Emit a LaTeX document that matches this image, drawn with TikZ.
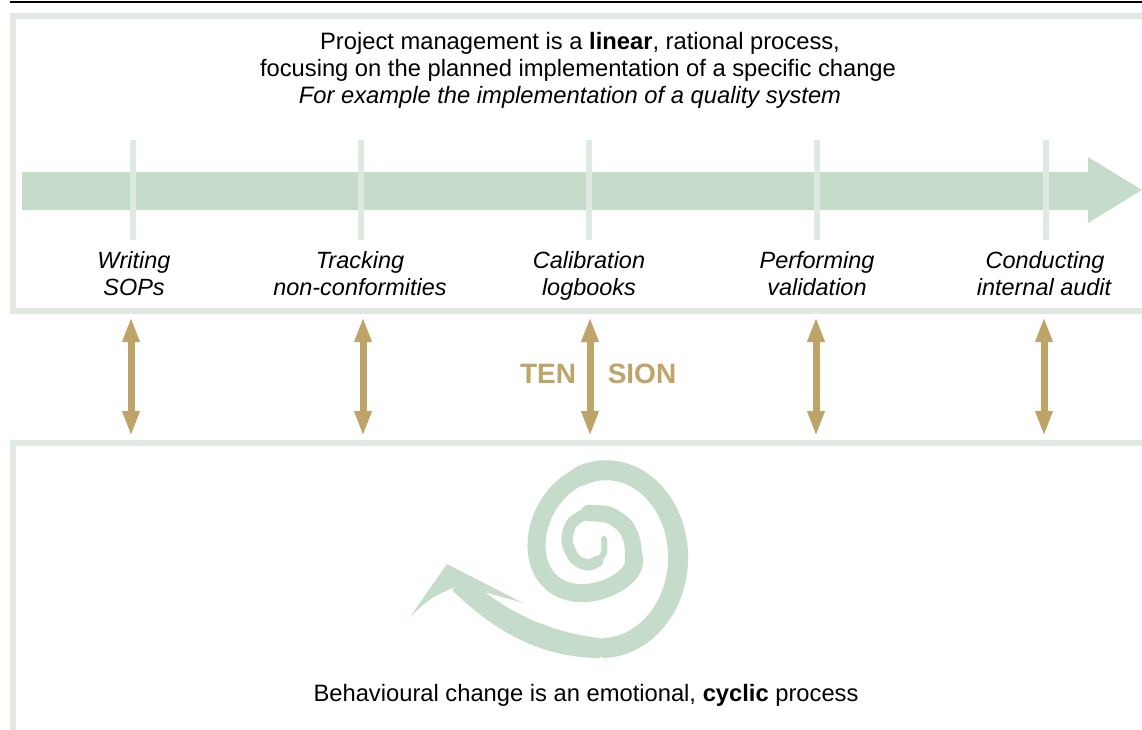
\documentclass[tikz,border=0pt]{standalone}
\usepackage{fontspec}
\setmainfont{Liberation Sans}
\usetikzlibrary{arrows.meta}
\definecolor{framec}{RGB}{224,232,225}
\definecolor{arrowc}{RGB}{197,220,203}
\definecolor{tickc}{RGB}{222,233,225}
\definecolor{spiralc}{RGB}{197,220,203}
\definecolor{gold}{RGB}{190,164,104}
\begin{document}
\begin{tikzpicture}[x=0.75pt,y=-0.75pt,
  txt/.style={font=\fontsize{17.8}{20.3}\selectfont, inner sep=0pt, anchor=base},
  lab/.style={inner sep=0pt, anchor=base, font=\fontsize{17.6}{20.3}\selectfont\itshape},
  tens/.style={inner sep=0pt, anchor=base, text=gold, font=\fontsize{21}{24}\selectfont\bfseries},
  tensarrow/.style={draw=gold, line width=5.25pt, {Triangle[length=18.75pt,width=12pt]}-{Triangle[length=18.75pt,width=12pt]}},
  tickline/.style={draw=tickc, line width=4.5pt},
  framel/.style={draw=framec, line width=4.5pt},
  spir/.style={draw=spiralc, line cap=round, line join=round}]
\useasboundingbox (0,0) rectangle (1142,729);
% top black rule
\coordinate (r1) at (10,2);
\coordinate (r2) at (1142,2);
\draw[line width=1.5pt] (r1) -- (r2);
% frames
\draw[framel] (1150,16) -- (13,16) -- (13,310.5) -- (1150,310.5);
\draw[framel] (1150,443) -- (13,443) -- (13,735);
% big arrow
\fill[arrowc] (22,172) -- (1088,172) -- (1088,157) -- (1142,190) -- (1088,223) -- (1088,210) -- (22,210) -- cycle;
% ticks
\foreach \x/\n in {133/1,361/2,589/3,817/4,1046/5}{
  \coordinate (k\n a) at (\x,140);
  \coordinate (k\n b) at (\x,240);
  \draw[tickline] (k\n a) -- (k\n b);
}
% top text
\node[txt] (h1) at (580,49) {Project management is a \textbf{linear}, rational process,};
\node[txt] (h2) at (578,76.5) {focusing on the planned implementation of a specific change};
\node[txt,font=\fontsize{17.8}{20.3}\selectfont\itshape] (h3) at (570,103.5) {For example the implementation of a quality system};
% labels
\node[lab] (l1a) at (134,268) {Writing};
\node[lab] (l1b) at (134,295) {SOPs};
\node[lab] (l2a) at (360,268) {Tracking};
\node[lab] (l2b) at (360,295) {non-conformities};
\node[lab] (l3a) at (589,268) {Calibration};
\node[lab] (l3b) at (589,295) {logbooks};
\node[lab] (l4a) at (817,268) {Performing};
\node[lab] (l4b) at (817,295) {validation};
\node[lab] (l5a) at (1045,268) {Conducting};
\node[lab] (l5b) at (1044,295) {internal audit};
% tension arrows
\foreach \x/\n in {131/1,363/2,590/3,816/4,1044/5}{
  \coordinate (t\n a) at (\x,317);
  \coordinate (t\n b) at (\x,436);
  \draw[tensarrow] (t\n a) -- (t\n b);
}
\node[tens] (ten) at (548,383) {TEN};
\node[tens] (sion) at (642,383) {SION};
% spiral
\draw[spir, line width=4.5pt] plot[smooth] coordinates {(604,539) (604,553) (596,562)};
\draw[spir, line width=8.5pt] plot[smooth] coordinates {(598,561) (588,565) (575,559) (567,541) (572,523) (589,513) (608,515)};
\draw[spir, line width=12.5pt] plot[smooth] coordinates {(589,513) (609,515) (625,526) (632,541) (633.6,556.6)};
\draw[spir, line width=13.5pt] plot[domain=20:300, samples=80, variable=\t]
  ({605-10.5*exp(0-\t/100)+(75-42.5*exp(0-\t/110))*cos(\t)},
   {546+16*(\t/450)^2+(86-56*exp(0-((\t/170)^2)))*sin(\t)});
\draw[spir, line width=15pt] plot[domain=250:450, samples=60, variable=\t]
  ({605-10.5*exp(0-\t/100)+(75-42.5*exp(0-\t/110))*cos(\t)},
   {546+16*(\t/450)^2+(86-56*exp(0-((\t/170)^2)))*sin(\t)});
\fill[spiralc] (600,638) .. controls (545,632) and (500,608) .. (466,576) -- (452,590) .. controls (488,625) and (535,658) .. (600,658) -- cycle;
\fill[spiralc] (447,564) -- (410,617) .. controls (430,598) .. (457,586) .. controls (485,592) .. (523,603) -- cycle;
% bottom text
\node[txt] (b1) at (586,701) {Behavioural change is an emotional, \textbf{cyclic} process};
\end{tikzpicture}
\end{document}
